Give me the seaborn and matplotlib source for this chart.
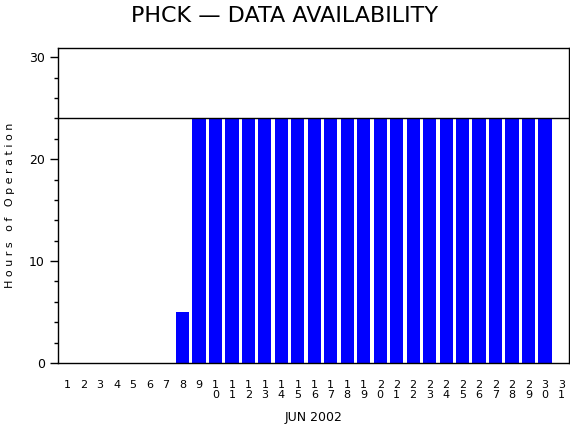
import matplotlib
matplotlib.use("Agg")
import matplotlib.pyplot as plt
import seaborn as sns
import pandas as pd
from matplotlib.ticker import MultipleLocator

days = list(range(1, 32))
hours = [0, 0, 0, 0, 0, 0, 0, 5] + [24] * 22 + [0]
labels = ["\n".join(str(d)) for d in days]

sns.set_style("white")
plt.rcParams['font.family'] = ['DejaVu Sans']
plt.rcParams['text.color'] = 'black'
plt.rcParams['axes.labelcolor'] = 'black'
plt.rcParams['xtick.color'] = 'black'
plt.rcParams['ytick.color'] = 'black'
fig = plt.figure(figsize=(5.7, 4.3), dpi=100)
ax = fig.add_axes([0.102, 0.156, 0.896, 0.732])
df = pd.DataFrame({"day": days, "hours": hours})
ax.bar(df["day"], df["hours"], width=0.8, color="#0000ff", edgecolor="none", linewidth=0)
ax.axhline(24, color="black", lw=1)
ax.set_xlim(0.45, 31.45)
ax.set_ylim(0, 30.9)
ax.set_xticks(days)
ax.set_xticklabels(labels, fontsize=8, linespacing=1.0, va="top")
ax.tick_params(axis="x", length=0, pad=12)
ax.yaxis.set_major_locator(MultipleLocator(10))
ax.yaxis.set_minor_locator(MultipleLocator(2))
ax.tick_params(axis="y", which="major", length=6, width=1, direction="out", left=True, labelsize=9)
ax.tick_params(axis="y", which="minor", length=3, width=1, direction="out", left=True)
for s in ax.spines.values():
    s.set_color("black"); s.set_linewidth(1)
ax.set_ylabel("H o u r s   o f   O p e r a t i o n", fontsize=8, labelpad=10)
ax.set_xlabel("JUN 2002", fontsize=9, labelpad=8)
fig.suptitle("PHCK — DATA AVAILABILITY", fontsize=16, y=0.985, color="black")
fig.savefig("out.png", dpi=100)
